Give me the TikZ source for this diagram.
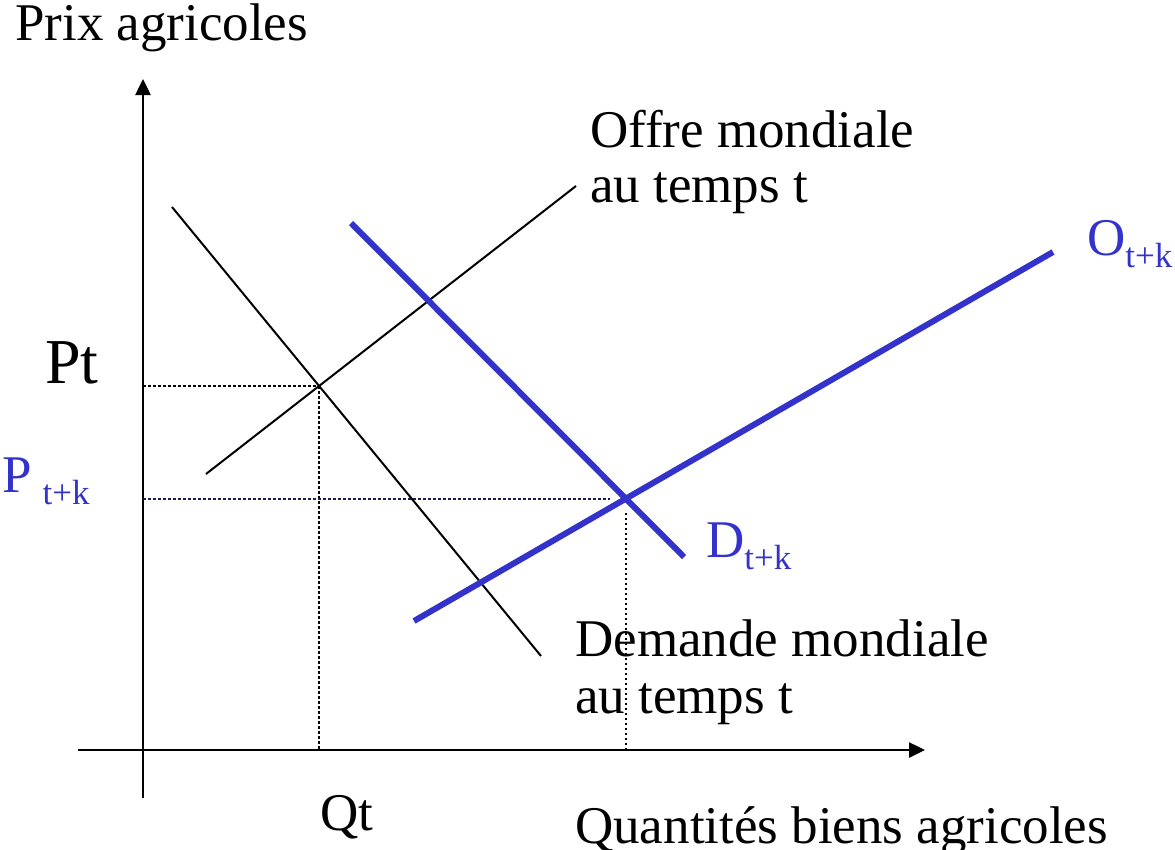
\documentclass[tikz,border=0pt]{standalone}
\usepackage{fontspec}
\setmainfont{Liberation Serif}
\usetikzlibrary{arrows.meta}
\definecolor{prixbleu}{RGB}{51,51,204}
\definecolor{guidenavy}{RGB}{20,30,80}
\newcommand{\bigtxt}{\fontsize{53}{55}\selectfont}
\newcommand{\subtxt}[1]{\raisebox{-12pt}{\fontsize{35}{35}\selectfont #1}}
\tikzset{
  axisline/.style={line width=2.5pt, -{Triangle[length=16pt,width=15pt]}},
  courbe/.style  ={line width=2pt, black},
  courbeK/.style ={line width=6pt, prixbleu},
  repere/.style  ={line width=2pt, dash pattern=on 2.5pt off 2.5pt},
  lbl/.style     ={font=\bigtxt, inner sep=0pt, anchor=base west},
  lblK/.style    ={lbl, text=prixbleu},
}

\begin{document}
\begin{tikzpicture}[x=1pt,y=-1pt]
  \useasboundingbox (0,0) rectangle (1175,849);
  % axes
  \coordinate (O) at (143,750);
  \coordinate (ybot) at (143,798);  \coordinate (ytop) at (143,79);
  \coordinate (xlft) at (78,750);   \coordinate (xrgt) at (925,750);
  \draw[axisline] (ybot) -- (ytop);
  \draw[axisline] (xlft) -- (xrgt);
  % courbes au temps t
  \coordinate (Dt1) at (172,207);  \coordinate (Dt2) at (541,656);
  \coordinate (Ot1) at (206,474);  \coordinate (Ot2) at (576,186);
  % courbes au temps t+k
  \coordinate (Dk1) at (351,223);  \coordinate (Dk2) at (684,557);
  \coordinate (Ok1) at (414,621);  \coordinate (Ok2) at (1053,252);
  \coordinate (It) at (intersection of Dt1--Dt2 and Ot1--Ot2);
  \coordinate (Ik) at (intersection of Dk1--Dk2 and Ok1--Ok2);
  \draw[repere] (O |- It) -- (It);
  \draw[repere] (It) -- (It |- O);
  \draw[repere, guidenavy, shorten >=16pt] (O |- Ik) -- (Ik);
  \draw[repere, shorten <=14pt] (Ik) -- (Ik |- O);
  \draw[courbe] (Dt1) -- (Dt2);
  \draw[courbe] (Ot1) -- (Ot2);
  \draw[courbeK] (Dk1) -- (Dk2);
  \draw[courbeK] (Ok1) -- (Ok2);
  % textes
  \node[lbl] (prix) at (15,40) {Prix agricoles};
  \node[lbl] (offre1) at (590,147) {Offre mondiale};
  \node[lbl] (offre2) at (590,202) {au temps t};
  \node[lbl] (dem1) at (575,656) {Demande mondiale};
  \node[lbl] (dem2) at (575,713) {au temps t};
  \node[lbl] (qt) at (320,830) {Qt};
  \node[lbl] (quant) at (575,843) {Quantités biens agricoles};
  \node[lbl, font=\fontsize{64}{64}\selectfont] (pt) at (45,383) {Pt};
  \node[lblK] (ptk) at (2,492) {P\hspace{11pt}\subtxt{t+k}};
  \node[lblK] (dtk) at (706,557) {D\subtxt{t+k}};
  \node[lblK] (otk) at (1087,255) {O\subtxt{t+k}};
\end{tikzpicture}
\end{document}
